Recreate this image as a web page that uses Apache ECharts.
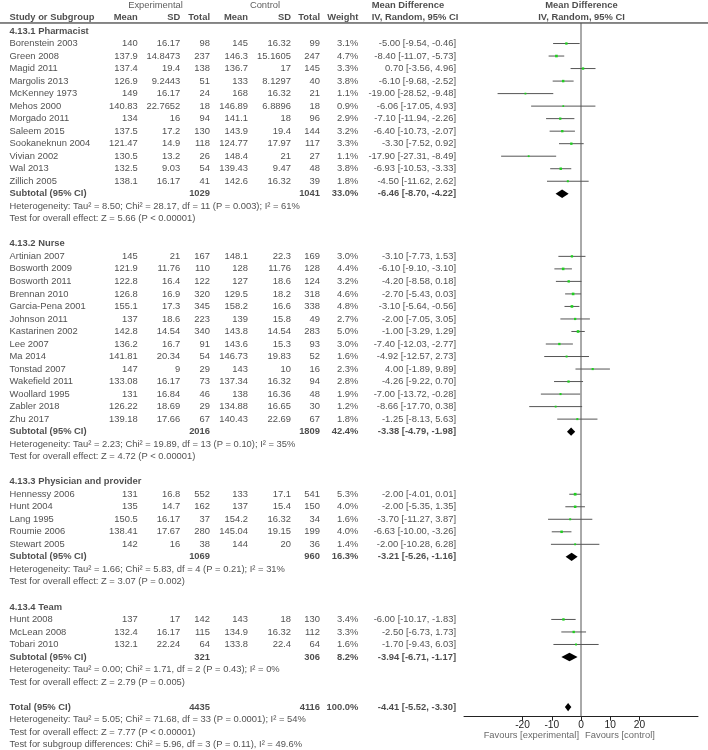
<!DOCTYPE html>
<html><head><meta charset="utf-8">
<script src="https://cdn.jsdelivr.net/npm/echarts@6/dist/echarts.min.js"></script>
<style>html,body{margin:0;padding:0;background:#fff}#chart{width:708px;height:750px}</style>
</head><body><div id="chart"></div>
<script>
// ---------------- DATA ----------------
const groupNames = ['4.13.1 Pharmacist', '4.13.2 Nurse', '4.13.3 Physician and provider', '4.13.4 Team'];
// [study, expMean, expSD, expN, ctlMean, ctlSD, ctlN, weight%, MD, lo, hi]
const pharmacist = [
  ['Borenstein 2003', 140, 16.17, 98, 145, 16.32, 99, 3.1, -5.00, -9.54, -0.46],
  ['Green 2008', 137.9, 14.8473, 237, 146.3, 15.1605, 247, 4.7, -8.40, -11.07, -5.73],
  ['Magid 2011', 137.4, 19.4, 138, 136.7, 17, 145, 3.3, 0.70, -3.56, 4.96],
  ['Margolis 2013', 126.9, 9.2443, 51, 133, 8.1297, 40, 3.8, -6.10, -9.68, -2.52],
  ['McKenney 1973', 149, 16.17, 24, 168, 16.32, 21, 1.1, -19.00, -28.52, -9.48],
  ['Mehos 2000', 140.83, 22.7652, 18, 146.89, 6.8896, 18, 0.9, -6.06, -17.05, 4.93],
  ['Morgado 2011', 134, 16, 94, 141.1, 18, 96, 2.9, -7.10, -11.94, -2.26],
  ['Saleem 2015', 137.5, 17.2, 130, 143.9, 19.4, 144, 3.2, -6.40, -10.73, -2.07],
  ['Sookaneknun 2004', 121.47, 14.9, 118, 124.77, 17.97, 117, 3.3, -3.30, -7.52, 0.92],
  ['Vivian 2002', 130.5, 13.2, 26, 148.4, 21, 27, 1.1, -17.90, -27.31, -8.49],
  ['Wal 2013', 132.5, 9.03, 54, 139.43, 9.47, 48, 3.8, -6.93, -10.53, -3.33],
  ['Zillich 2005', 138.1, 16.17, 41, 142.6, 16.32, 39, 1.8, -4.50, -11.62, 2.62]
];
const nurse = [
  ['Artinian 2007', 145, 21, 167, 148.1, 22.3, 169, 3.0, -3.10, -7.73, 1.53],
  ['Bosworth 2009', 121.9, 11.76, 110, 128, 11.76, 128, 4.4, -6.10, -9.10, -3.10],
  ['Bosworth 2011', 122.8, 16.4, 122, 127, 18.6, 124, 3.2, -4.20, -8.58, 0.18],
  ['Brennan 2010', 126.8, 16.9, 320, 129.5, 18.2, 318, 4.6, -2.70, -5.43, 0.03],
  ['Garcia-Pena 2001', 155.1, 17.3, 345, 158.2, 16.6, 338, 4.8, -3.10, -5.64, -0.56],
  ['Johnson 2011', 137, 18.6, 223, 139, 15.8, 49, 2.7, -2.00, -7.05, 3.05],
  ['Kastarinen 2002', 142.8, 14.54, 340, 143.8, 14.54, 283, 5.0, -1.00, -3.29, 1.29],
  ['Lee 2007', 136.2, 16.7, 91, 143.6, 15.3, 93, 3.0, -7.40, -12.03, -2.77],
  ['Ma 2014', 141.81, 20.34, 54, 146.73, 19.83, 52, 1.6, -4.92, -12.57, 2.73],
  ['Tonstad 2007', 147, 9, 29, 143, 10, 16, 2.3, 4.00, -1.89, 9.89],
  ['Wakefield 2011', 133.08, 16.17, 73, 137.34, 16.32, 94, 2.8, -4.26, -9.22, 0.70],
  ['Woollard 1995', 131, 16.84, 46, 138, 16.36, 48, 1.9, -7.00, -13.72, -0.28],
  ['Zabler 2018', 126.22, 18.69, 29, 134.88, 16.65, 30, 1.2, -8.66, -17.70, 0.38],
  ['Zhu 2017', 139.18, 17.66, 67, 140.43, 22.69, 67, 1.8, -1.25, -8.13, 5.63]
];
const physician = [
  ['Hennessy 2006', 131, 16.8, 552, 133, 17.1, 541, 5.3, -2.00, -4.01, 0.01],
  ['Hunt 2004', 135, 14.7, 162, 137, 15.4, 150, 4.0, -2.00, -5.35, 1.35],
  ['Lang 1995', 150.5, 16.17, 37, 154.2, 16.32, 34, 1.6, -3.70, -11.27, 3.87],
  ['Roumie 2006', 138.41, 17.67, 280, 145.04, 19.15, 199, 4.0, -6.63, -10.00, -3.26],
  ['Stewart 2005', 142, 16, 38, 144, 20, 36, 1.4, -2.00, -10.28, 6.28]
];
const team = [
  ['Hunt 2008', 137, 17, 142, 143, 18, 130, 3.4, -6.00, -10.17, -1.83],
  ['McLean 2008', 132.4, 16.17, 115, 134.9, 16.32, 112, 3.3, -2.50, -6.73, 1.73],
  ['Tobari 2010', 132.1, 22.24, 64, 133.8, 22.4, 64, 1.6, -1.70, -9.43, 6.03]
];
const groupStudies = [pharmacist, nurse, physician, team];
// [expN, ctlN, weight%, MD, lo, hi]
const subtotals = [
  [1029, 1041, 33.0, -6.46, -8.70, -4.22],
  [2016, 1809, 42.4, -3.38, -4.79, -1.98],
  [1069, 960, 16.3, -3.21, -5.26, -1.16],
  [321, 306, 8.2, -3.94, -6.71, -1.17]
];
const heterogeneity = [
  'Heterogeneity: Tau² = 8.50; Chi² = 28.17, df = 11 (P = 0.003); I² = 61%',
  'Heterogeneity: Tau² = 2.23; Chi² = 19.89, df = 13 (P = 0.10); I² = 35%',
  'Heterogeneity: Tau² = 1.66; Chi² = 5.83, df = 4 (P = 0.21); I² = 31%',
  'Heterogeneity: Tau² = 0.00; Chi² = 1.71, df = 2 (P = 0.43); I² = 0%'
];
const overallEffect = [
  'Test for overall effect: Z = 5.66 (P < 0.00001)',
  'Test for overall effect: Z = 4.72 (P < 0.00001)',
  'Test for overall effect: Z = 3.07 (P = 0.002)',
  'Test for overall effect: Z = 2.79 (P = 0.005)'
];
const total = [4435, 4116, 100.0, -4.41, -5.52, -3.30];
const totalTexts = [
  'Heterogeneity: Tau² = 5.05; Chi² = 71.68, df = 33 (P = 0.0001); I² = 54%',
  'Test for overall effect: Z = 7.77 (P < 0.00001)',
  'Test for subgroup differences: Chi² = 5.96, df = 3 (P = 0.11), I² = 49.6%'
];
const xTicks = [-20, -10, 0, 10, 20];
const favourLabels = ['Favours [experimental]', 'Favours [control]'];

// ---------------- LAYOUT ----------------
const FONT = '"Liberation Sans", Arial, sans-serif';
const FS = 9.4;
const TXT = '#1e1e1e';
const COL = {name: 9.5, eMean: 137.7, eSD: 180.3, eN: 210, cMean: 248, cSD: 291, cN: 320, w: 358.3, md: 456, mdHead: 371.7, plot: 581.5, favL: 579, favR: 585};
const ROW_PX = 12.52, ROW0_PX = 31, W = 708, H = 750, AXIS_Y = 716.7;
const yMinA = -ROW0_PX / ROW_PX, yMaxA = (H - ROW0_PX) / ROW_PX, yMaxB = (AXIS_Y - ROW0_PX) / ROW_PX;
const HEAD1 = -2.08, HEAD2 = -1.1, HLINE = -0.64, FAV_ROW = (735.7 - ROW0_PX) / ROW_PX;

const fmt2 = v => v.toFixed(2);
const ci = (m, l, h) => fmt2(m) + ' [' + fmt2(l) + ', ' + fmt2(h) + ']';
const texts = [];
function txt(x, row, s, align, bold, color) {
  const lab = {position: align === 'r' ? 'left' : (align === 'l' ? 'right' : 'inside'), fontWeight: bold ? 'bold' : 'normal'};
  if (color) lab.color = color;
  texts.push({name: String(s), value: [x, row], label: lab});
}
// header
txt(155.5, HEAD1, 'Experimental', 'c', false, '#333');
txt(265, HEAD1, 'Control', 'c', false, '#333');
txt(COL.mdHead, HEAD1, 'Mean Difference', 'l', true);
txt(COL.plot, HEAD1, 'Mean Difference', 'c', true);
txt(COL.name, HEAD2, 'Study or Subgroup', 'l', true);
[['Mean', COL.eMean], ['SD', COL.eSD], ['Total', COL.eN], ['Mean', COL.cMean], ['SD', COL.cSD], ['Total', COL.cN], ['Weight', COL.w]].forEach(([s, x]) => txt(x, HEAD2, s, 'r', true));
txt(COL.mdHead, HEAD2, 'IV, Random, 95% CI', 'l', true);
txt(COL.plot, HEAD2, 'IV, Random, 95% CI', 'c', true);

const studyMarks = [], diamonds = [];
let r = 0;
groupNames.forEach((g, gi) => {
  txt(COL.name, r, g, 'l', true); r++;
  groupStudies[gi].forEach(s => {
    txt(COL.name, r, s[0], 'l', false);
    txt(COL.eMean, r, s[1], 'r'); txt(COL.eSD, r, s[2], 'r'); txt(COL.eN, r, s[3], 'r');
    txt(COL.cMean, r, s[4], 'r'); txt(COL.cSD, r, s[5], 'r'); txt(COL.cN, r, s[6], 'r');
    txt(COL.w, r, s[7].toFixed(1) + '%', 'r');
    txt(COL.md, r, ci(s[8], s[9], s[10]), 'r');
    studyMarks.push([r, s[8], s[9], s[10], s[7]]);
    r++;
  });
  const st = subtotals[gi];
  txt(COL.name, r, 'Subtotal (95% CI)', 'l', true);
  txt(COL.eN, r, st[0], 'r', true); txt(COL.cN, r, st[1], 'r', true);
  txt(COL.w, r, st[2].toFixed(1) + '%', 'r', true);
  txt(COL.md, r, ci(st[3], st[4], st[5]), 'r', true);
  diamonds.push([r, st[3], st[4], st[5]]);
  r++;
  txt(COL.name, r, heterogeneity[gi], 'l', false); r++;
  txt(COL.name, r, overallEffect[gi], 'l', false); r++;
  r++;
});
txt(COL.name, r, 'Total (95% CI)', 'l', true);
txt(COL.eN, r, total[0], 'r', true); txt(COL.cN, r, total[1], 'r', true);
txt(COL.w, r, total[2].toFixed(1) + '%', 'r', true);
txt(COL.md, r, ci(total[3], total[4], total[5]), 'r', true);
diamonds.push([r, total[3], total[4], total[5]]);
r++;
totalTexts.forEach(t => { txt(COL.name, r, t, 'l', false); r++; });
txt(COL.favL, FAV_ROW, favourLabels[0], 'r', false, '#444');
txt(COL.favR, FAV_ROW, favourLabels[1], 'l', false, '#444');

// ---------------- CHART ----------------
const chart = echarts.init(document.getElementById('chart'), null, {renderer: 'canvas'});
chart.setOption({
  animation: false,
  backgroundColor: '#fff',
  textStyle: {fontFamily: FONT},
  grid: [
    {left: 0, top: 0, width: W, height: H},
    {left: 464, top: 0, width: 234, height: AXIS_Y}
  ],
  xAxis: [
    {gridIndex: 0, type: 'value', min: 0, max: W, show: false},
    {gridIndex: 1, type: 'value', min: -40, max: 40, interval: 10, position: 'bottom',
      axisLine: {show: true, onZero: false, lineStyle: {color: '#222', width: 1}},
      axisTick: {show: true, length: 4, customValues: xTicks, lineStyle: {color: '#222'}},
      axisLabel: {customValues: xTicks, margin: 3, fontSize: FS + 0.8, color: TXT, fontFamily: FONT},
      splitLine: {show: false}}
  ],
  yAxis: [
    {gridIndex: 0, type: 'value', inverse: true, min: yMinA, max: yMaxA, show: false},
    {gridIndex: 1, type: 'value', inverse: true, min: yMinA, max: yMaxB, show: false}
  ],
  series: [
    {type: 'line', xAxisIndex: 0, yAxisIndex: 0, silent: true, symbol: 'none',
      lineStyle: {color: '#111', width: 1}, data: [[0, HLINE], [W, HLINE]]},
    {type: 'line', xAxisIndex: 1, yAxisIndex: 1, silent: true, symbol: 'none',
      lineStyle: {color: '#555', width: 1}, data: [[0, HLINE], [0, yMaxB]]},
    {type: 'custom', xAxisIndex: 1, yAxisIndex: 1, silent: true, data: studyMarks,
      encode: {x: [1, 2, 3], y: 0},
      renderItem: (params, api) => {
        const row = api.value(0), md = api.value(1), lo = api.value(2), hi = api.value(3), w = api.value(4);
        const p0 = api.coord([lo, row]), p1 = api.coord([hi, row]), pc = api.coord([md, row]);
        const s = 1 + 0.75 * Math.sqrt(w);
        return {type: 'group', children: [
          {type: 'line', shape: {x1: p0[0], y1: p0[1], x2: p1[0], y2: p1[1]}, style: {stroke: '#555', lineWidth: 1}},
          {type: 'rect', shape: {x: pc[0] - s / 2, y: pc[1] - s / 2, width: s, height: s}, style: {fill: '#1fd01f'}}
        ]};
      }},
    {type: 'custom', xAxisIndex: 1, yAxisIndex: 1, silent: true, data: diamonds,
      encode: {x: [1, 2, 3], y: 0},
      renderItem: (params, api) => {
        const row = api.value(0);
        const pl = api.coord([api.value(2), row]), pm = api.coord([api.value(1), row]), ph = api.coord([api.value(3), row]);
        const h = 4.2;
        return {type: 'polygon', shape: {points: [[pl[0], pl[1]], [pm[0], pm[1] - h], [ph[0], ph[1]], [pm[0], pm[1] + h]]}, style: {fill: '#000'}};
      }},
    {type: 'scatter', xAxisIndex: 0, yAxisIndex: 0, silent: true, symbolSize: 0, data: texts,
      itemStyle: {color: 'rgba(0,0,0,0)'},
      label: {show: true, formatter: '{b}', distance: 0, fontSize: FS, color: TXT, fontFamily: FONT}}
  ]
});
</script></body></html>
